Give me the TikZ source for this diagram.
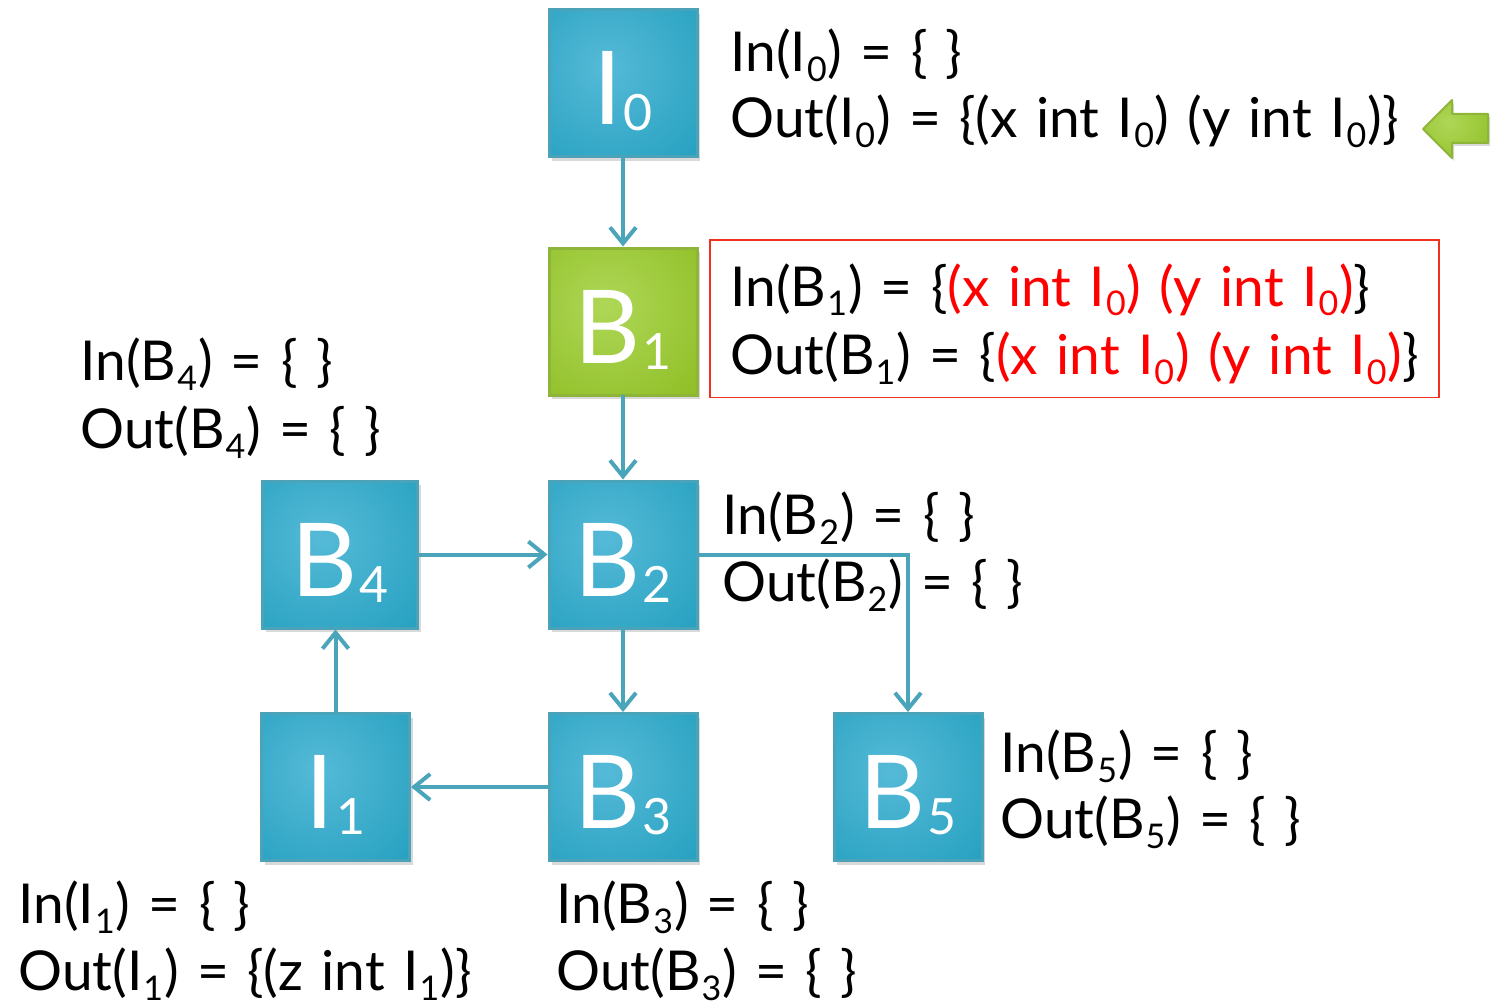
\documentclass[tikz,border=0pt]{standalone}
\usepackage{fontspec}
\setmainfont{Lato}[WordSpace=1.3]
\usetikzlibrary{arrows.meta,positioning,shadows,fit}
\definecolor{tealin}{HTML}{55BAD7}
\definecolor{tealout}{HTML}{1E9CBC}
\definecolor{tealrim}{HTML}{4AA3B9}
\definecolor{limein}{HTML}{AED757}
\definecolor{limeout}{HTML}{8ABA1C}
\definecolor{limerim}{HTML}{8FB43A}
\definecolor{flowline}{HTML}{4AA5BB}
\definecolor{hilite}{HTML}{FF0000}
\definecolor{framered}{HTML}{F2301E}
\pgfdeclareradialshading{tealglow}{\pgfpoint{-6bp}{6bp}}{color(0bp)=(tealin); color(48bp)=(tealout); color(100bp)=(tealout)}
\pgfdeclareradialshading{limeglow}{\pgfpoint{-6bp}{6bp}}{color(0bp)=(limein); color(48bp)=(limeout); color(100bp)=(limeout)}
\newcommand{\lsub}[1]{\kern0.5pt\raisebox{-5pt}{\fontsize{17}{17}\selectfont #1}\kern0.5pt}
\newcommand{\bsub}[1]{\kern1pt\raisebox{-3pt}{\fontsize{25}{25}\selectfont #1}}
\tikzset{
  blockbox/.style={draw=tealrim,shading=tealglow,line width=1.5pt,
                   minimum width=74pt,minimum height=73.5pt,inner sep=0pt,
                   text height=41.5pt,text depth=0pt,text=white,
                   font=\fontsize{51}{51}\selectfont,
                   drop shadow={shadow xshift=1.5pt,shadow yshift=-2pt,opacity=0.3}},
  greenbox/.style={blockbox,draw=limerim,shading=limeglow},
  setlabel/.style={anchor=base west,inner sep=0pt,
                   font=\fontsize{27.5}{33}\selectfont},
  redframe/.style={draw=framered,line width=0.8pt,inner xsep=10pt,inner ysep=9pt,
                   yshift=2.5pt},
  flowarr/.style={-{Straight Barb[length=8pt,width=13pt]},line width=2pt,
                  draw=flowline,line cap=round},
  pointer/.style={draw=limerim,shading=limeglow,line width=1pt,line join=round,
                  drop shadow={shadow xshift=1pt,shadow yshift=-1.5pt,opacity=0.3}}
}
\begin{document}
\begin{tikzpicture}[x=0.5pt,y=-0.5pt]
  \useasboundingbox (0,0) rectangle (1495,1006);
  % blocks
  \node[blockbox] (I0) at (623,83.5) {I\bsub{0}};
  \node[greenbox] (B1) at (623,321.5) {B\bsub{1}};
  \node[blockbox] (B2) at (623,554.5) {B\bsub{2}};
  \node[blockbox,minimum width=77.5pt] (B4) at (340,554.5) {B\bsub{4}};
  \node[blockbox] (I1) at (335.5,787) {I\bsub{1}};
  \node[blockbox] (B3) at (623,787) {B\bsub{3}};
  \node[blockbox] (B5) at (908,787) {B\bsub{5}};
  % edges
  \draw[flowarr] (I0) -- (B1);
  \draw[flowarr] (B1) -- (B2);
  \draw[flowarr] (B4) -- (B2);
  \draw[flowarr] (B2) -- (B3);
  \draw[flowarr] (B3) -- (I1);
  \draw[flowarr] (I1.north) -- (I1.north |- B4.south);
  \draw[flowarr] (B2.east) -| (B5.north);
  % in/out sets
  \node[setlabel] (inI0) at (730,72) {In(I\lsub{0}) = \{ \}};
  \node[setlabel] (outI0) at (730,138)
    {Out(I\lsub{0}) = \{(x int I\lsub{0}) (y int I\lsub{0})\}};
  \node[setlabel] (inB1) at (730,306)
    {In(B\lsub{1}) = \{{\color{hilite}(x int I\lsub{0}) (y int I\lsub{0})}\}};
  \node[setlabel] (outB1) at (730,374)
    {Out(B\lsub{1}) = \{{\color{hilite}(x int I\lsub{0}) (y int I\lsub{0})}\}};
  \node[redframe,fit=(inB1)(outB1)] (frameB1) {};
  \node[setlabel] (inB4) at (80,380) {In(B\lsub{4}) = \{ \}};
  \node[setlabel] (outB4) at (80,448) {Out(B\lsub{4}) = \{ \}};
  \node[setlabel] (inB2) at (722,534) {In(B\lsub{2}) = \{ \}};
  \node[setlabel] (outB2) at (722,601) {Out(B\lsub{2}) = \{ \}};
  \node[setlabel] (inB5) at (1000,772) {In(B\lsub{5}) = \{ \}};
  \node[setlabel] (outB5) at (1000,838) {Out(B\lsub{5}) = \{ \}};
  \node[setlabel] (inI1) at (18,923) {In(I\lsub{1}) = \{ \}};
  \node[setlabel] (outI1) at (18,990) {Out(I\lsub{1}) = \{(z int I\lsub{1})\}};
  \node[setlabel] (inB3) at (556,923) {In(B\lsub{3}) = \{ \}};
  \node[setlabel] (outB3) at (556,990) {Out(B\lsub{3}) = \{ \}};
  % green pointer
  \draw[pointer] (1423,129) -- (1452,100) -- (1452,114) -- (1488,114)
    -- (1488,143) -- (1452,143) -- (1452,158) -- cycle;
\end{tikzpicture}
\end{document}
